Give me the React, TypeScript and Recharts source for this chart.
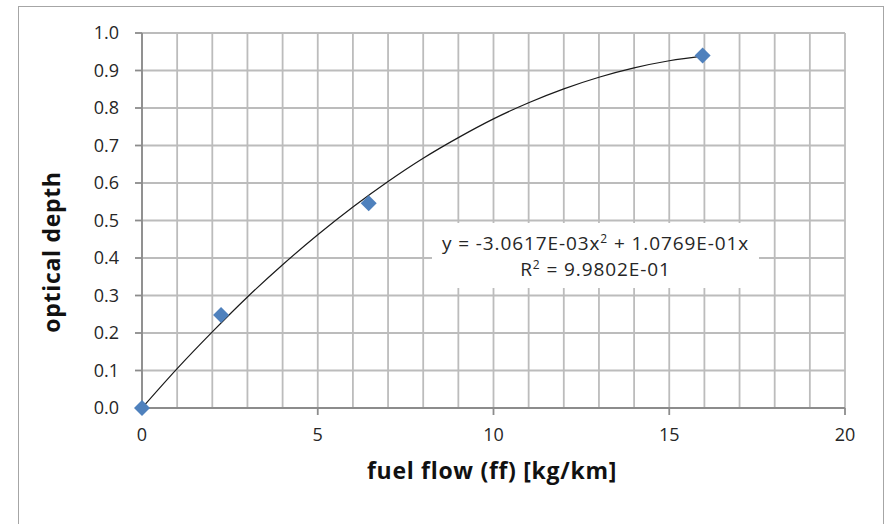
import React from 'react';
import {
  ComposedChart,
  Line,
  Scatter,
  XAxis,
  YAxis,
  CartesianGrid,
} from 'recharts';

// measured points
const fuelFlow = [0, 2.25, 6.45, 15.95];
const opticalDepth = [0, 0.248, 0.546, 0.94];

// trendline
const trendX = [0, 1, 2, 3, 4, 5, 6, 7, 8, 9, 10, 11, 12, 13, 14, 15, 16];
const trendY = [
  0, 0.105, 0.203, 0.296, 0.382, 0.462, 0.536, 0.604, 0.666, 0.721, 0.771,
  0.814, 0.851, 0.882, 0.907, 0.926, 0.939,
];

const xTicks = [0, 5, 10, 15, 20];
const yTicks = [0, 0.1, 0.2, 0.3, 0.4, 0.5, 0.6, 0.7, 0.8, 0.9, 1.0];
const xGrid = [0, 1, 2, 3, 4, 5, 6, 7, 8, 9, 10, 11, 12, 13, 14, 15, 16, 17, 18, 19, 20];

const points = fuelFlow.map((x, i) => ({ x, y: opticalDepth[i] }));
const trend = trendX.map((x, i) => ({ x, y: trendY[i] }));

const FONT = '"Open Sans", sans-serif';
const TEXT = '#262626';

const Diamond = (props: any) => {
  const { cx, cy } = props;
  const r = 8;
  return (
    <polygon
      points={`${cx},${cy - r} ${cx + r},${cy} ${cx},${cy + r} ${cx - r},${cy}`}
      fill="#4f81bd"
    />
  );
};

export default function App() {
  return (
    <div
      style={{
        position: 'absolute',
        left: 0,
        top: 0,
        width: 886,
        height: 524,
        background: '#fff',
        overflow: 'hidden',
        fontFamily: FONT,
      }}
    >
      <div
        style={{
          position: 'absolute',
          left: 18,
          top: 6,
          width: 864,
          height: 560,
          border: '1px solid #a6a6a6',
        }}
      />
      <ComposedChart
        width={886}
        height={524}
        margin={{ top: 33, right: 41, left: 82, bottom: 86 }}
        style={{ position: 'absolute', left: 0, top: 0 }}
      >
        <CartesianGrid
          stroke="#bcbcbc"
          strokeWidth={1.8}
          verticalValues={xGrid}
          horizontalValues={yTicks}
        />
        <XAxis
          type="number"
          dataKey="x"
          domain={[0, 20]}
          ticks={xTicks}
          height={30}
          tickSize={7}
          tickMargin={13}
          stroke="#8c8c8c"
          strokeWidth={1.8}
          tick={{ fill: TEXT, fontSize: 18, fontFamily: FONT }}
        />
        <YAxis
          type="number"
          dataKey="y"
          domain={[0, 1]}
          ticks={yTicks}
          width={60}
          tickSize={7}
          tickMargin={16}
          stroke="#8c8c8c"
          strokeWidth={1.8}
          tickFormatter={(v: number) => v.toFixed(1)}
          tick={{ fill: TEXT, fontSize: 18, fontFamily: FONT }}
        />
        <Line
          data={trend}
          dataKey="y"
          type="monotone"
          stroke="#1a1a1a"
          strokeWidth={1.2}
          dot={false}
          isAnimationActive={false}
        />
        <Scatter
          data={points}
          dataKey="y"
          shape={<Diamond />}
          isAnimationActive={false}
        />
      </ComposedChart>
      <div
        style={{
          position: 'absolute',
          left: 432,
          top: 223,
          width: 327,
          height: 65,
          background: '#fff',
          color: TEXT,
          fontSize: 19,
          letterSpacing: 0.9,
          textAlign: 'center',
          lineHeight: '26px',
          paddingTop: 7,
          boxSizing: 'border-box',
          whiteSpace: 'nowrap',
        }}
      >
        <div>
          y = -3.0617E-03x<sup style={{ fontSize: 12, lineHeight: 0 }}>2</sup> + 1.0769E-01x
        </div>
        <div>
          R<sup style={{ fontSize: 12, lineHeight: 0 }}>2</sup> = 9.9802E-01
        </div>
      </div>
      <div
        style={{
          position: 'absolute',
          left: 242,
          top: 454,
          width: 500,
          textAlign: 'center',
          fontWeight: 700,
          fontSize: 23,
          letterSpacing: 0.7,
          color: '#111',
        }}
      >
        fuel flow (ff) [kg/km]
      </div>
      <div
        style={{
          position: 'absolute',
          left: 51,
          top: 252,
          width: 240,
          marginLeft: -120,
          marginTop: -16,
          textAlign: 'center',
          fontWeight: 700,
          fontSize: 23,
          letterSpacing: 0.7,
          color: '#111',
          transform: 'rotate(-90deg)',
        }}
      >
        optical depth
      </div>
    </div>
  );
}
